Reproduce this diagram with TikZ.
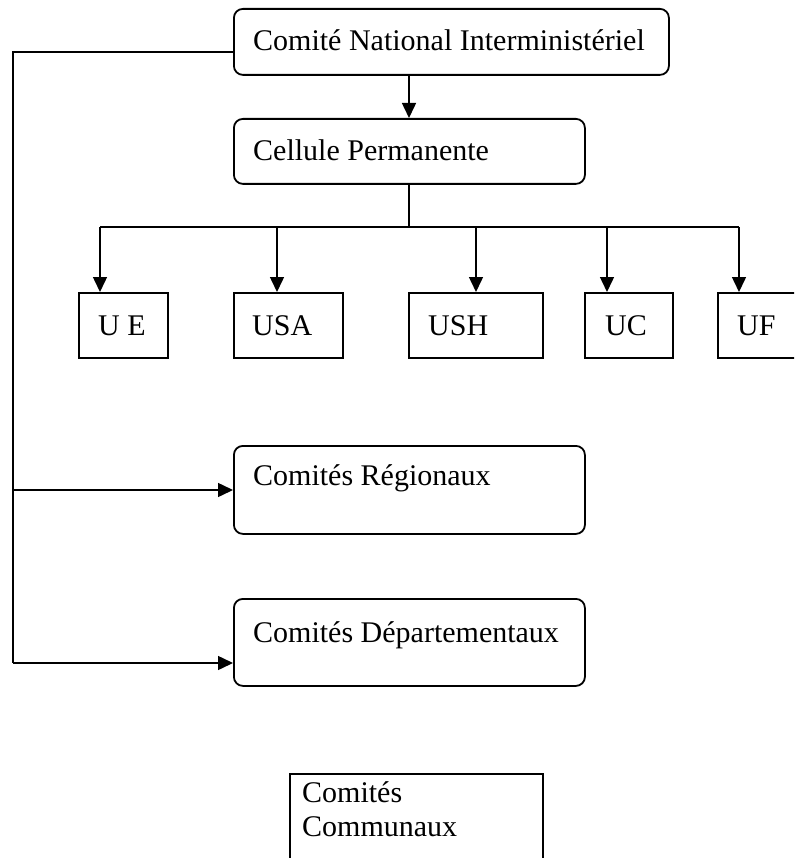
\documentclass[tikz,border=0pt]{standalone}
\usepackage{fontspec}
\setmainfont{Liberation Serif}
\usetikzlibrary{arrows.meta}
\tikzset{
  rbox/.style={draw, line width=1.8pt, rounded corners=9pt, inner sep=0pt, anchor=north west},
  sbox/.style={draw, line width=1.8pt, inner sep=0pt, anchor=north west},
  txt/.style={anchor=base west, inner sep=0pt, font=\fontsize{30}{34}\selectfont},
  wire/.style={line width=1.5pt},
  conn/.style={line width=1.5pt, -{Triangle[length=15pt,width=14pt]}}
}
\begin{document}
\begin{tikzpicture}[x=1pt,y=-1pt]
\useasboundingbox (0,0) rectangle (794,858);
\clip (0,0) rectangle (794,858);
% boxes
\node[rbox, minimum width=435pt, minimum height=66pt] (cni) at (233,8) {};
\node[rbox, minimum width=351pt, minimum height=65pt] (cp) at (233,118) {};
\node[sbox, minimum width=89pt, minimum height=65pt] (ue) at (78,292) {};
\node[sbox, minimum width=109pt, minimum height=65pt] (usa) at (233,292) {};
\node[sbox, minimum width=134pt, minimum height=65pt] (ush) at (408,292) {};
\node[sbox, minimum width=88pt, minimum height=65pt] (uc) at (584,292) {};
\node[sbox, minimum width=100pt, minimum height=65pt] (uf) at (717,292) {};
\node[rbox, minimum width=351pt, minimum height=88pt] (reg) at (233,445) {};
\node[rbox, minimum width=351pt, minimum height=87pt] (dep) at (233,598) {};
\node[sbox, minimum width=253pt, minimum height=110pt] (com) at (289,773) {};
% texts
\node[txt] (tcni) at (253,51) {Comité National Interministériel};
\node[txt] (tcp) at (253,161) {Cellule Permanente};
\node[txt] (tue) at (98,335) {U E};
\node[txt] (tusa) at (252,335) {USA};
\node[txt] (tush) at (428,335) {USH};
\node[txt] (tuc) at (605,335) {UC};
\node[txt] (tuf) at (737,335) {UF};
\node[txt] (treg) at (253,485) {Comités Régionaux};
\node[txt] (tdep) at (253,642) {Comités Départementaux};
\node[txt, align=left] (tcom) at (302,836) {Comités\\Communaux};
% coordinates
\coordinate (x1) at (409,0);
\coordinate (bus) at (409,227);
\coordinate (a1) at (100,227);
\coordinate (a2) at (277,227);
\coordinate (a3) at (476,227);
\coordinate (a4) at (607,227);
\coordinate (a5) at (739,227);
\coordinate (l0) at (13,52);
\coordinate (lr) at (13,490);
\coordinate (ld) at (13,663);
% connectors
\draw[conn] (cni.south -| x1) -- (cp.north -| x1);
\draw[wire] (cp.south -| x1) -- (bus);
\draw[wire] (a1) -- (a5);
\draw[conn] (a1) -- (a1 |- ue.north);
\draw[conn] (a2) -- (a2 |- usa.north);
\draw[conn] (a3) -- (a3 |- ush.north);
\draw[conn] (a4) -- (a4 |- uc.north);
\draw[conn] (a5) -- (a5 |- uf.north);
\draw[wire] (cni.west |- l0) -- (l0) -- (ld);
\draw[conn] (lr) -- (reg.west |- lr);
\draw[conn] (ld) -- (dep.west |- ld);
\end{tikzpicture}
\end{document}
